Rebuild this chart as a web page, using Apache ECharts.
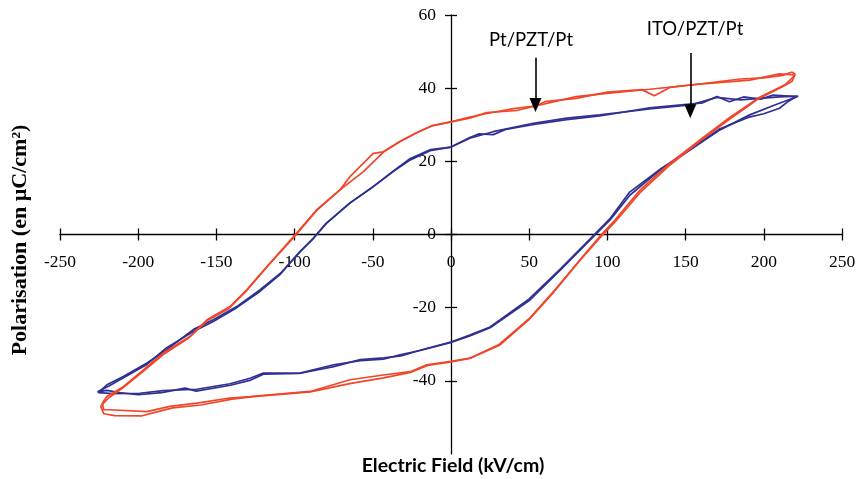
<!DOCTYPE html>
<html>
<head>
<meta charset="utf-8">
<script src="https://cdn.jsdelivr.net/npm/echarts@6/dist/echarts.min.js"></script>
<style>html,body{margin:0;padding:0;background:#fff;}#c{width:856px;height:479px;}</style>
</head>
<body>
<div id="c"></div>
<script>
// Electric field (kV/cm), Polarisation (µC/cm²)
const ptCycle1 = [
[220,43.6],[210,43.9],[191,42.2],[159,41.1],[127,39.7],[99.5,38.6],[80,37.7],[54.8,35.2],[42,33.9],[22.8,33.3],[12,31.8],[0,30.8],[-12,29.8],[-22,27.8],[-32.6,25.4],[-43.3,22.6],[-49.7,22.2],[-64.6,15.8],[-71,12.2],[-86,6.7],[-100.8,-0.6],[-117.8,-8.8],[-130.6,-15.1],[-141.3,-19.7],[-156,-23.3],[-167,-27.9],[-184,-32.4],[-196.7,-37],[-209.5,-41.6],[-220,-44.3],[-223,-46.1],[-222,-47.9],
[-218,-47.9],[-194.6,-48.4],[-179.7,-47],[-162.6,-46.1],[-141.3,-44.7],[-128.5,-44.3],[-115.7,-43.8],[-90,-42.9],[-64.6,-39.7],[-43.3,-38.4],[-26,-37.5],[-15.5,-35.6],[0,-34.7],[12,-33.8],[31,-30],[50.5,-22.8],[66.5,-15.1],[82.5,-6.9],[95,-0.6],[105,4],[121,12.2],[140,19.5],[159,25.8],[178,31.9],[197.6,37.6],[213.6,40.9],[220,43.6]
];
const ptCycle2 = [
[218,44.4],[212,43.5],[200,42.8],[185,42.5],[160,41.2],[140,40.2],[130,37.9],[122,39.6],[100,38.9],[80,37.2],[60,36.3],[54.8,35.2],[40,34.4],[22,33],[10,31.9],[0,30.8],[-12,29.7],[-22,27.8],[-32.6,25.4],[-43,22.6],[-56,17.2],[-71,12.2],[-86,6.5],[-100,-0.5],[-117,-8.5],[-131,-15.5],[-142,-20.2],[-156,-23.6],[-168,-28.4],[-184,-32.8],[-197,-37.5],[-210,-42],[-219,-44.7],[-224,-47],[-222,-49],
[-215,-49.5],[-198,-49.6],[-190,-48.7],[-178,-47.4],[-160,-46.6],[-140,-45],[-128,-44.4],[-115,-43.9],[-90,-43],[-64,-40.7],[-43,-39.2],[-26,-37.7],[-15,-35.8],[0,-34.8],[12,-33.9],[31,-30.3],[50,-23.2],[66,-15.6],[82,-7.3],[95,-1],[105,3.5],[121,11.5],[140,19],[159,25.5],[178,31.5],[197,37.2],[210,40],[218,41.8],[220,43.8],[218,44.4]
];
const itoCycle1 = [
[222,37.8],[210,37.6],[185,36.8],[170,37.5],[153,35.4],[127,34.3],[95,32.7],[74,31.8],[52.6,30.4],[27,28.1],[12,26.3],[0,23.9],[-13.4,22.9],[-26,20.4],[-37,17.2],[-49.7,13.1],[-64.6,8.6],[-79.5,3.1],[-88,-1],[-96.5,-4.7],[-109,-10.6],[-122,-15.1],[-137,-19.7],[-152,-23.3],[-164.8,-26],[-181.8,-31.5],[-194.6,-35.2],[-209.5,-38.8],[-220,-41.1],[-225.5,-43.2],
[-216,-43.5],[-199,-43.4],[-184,-42.7],[-162.6,-42.3],[-141.3,-40.8],[-128.5,-39.3],[-120,-37.9],[-96.5,-37.9],[-75,-35.6],[-58,-34.5],[-43.3,-34.1],[-32.6,-32.9],[-17.7,-31.5],[0,-29.5],[12,-27.7],[25,-25.5],[50.5,-17.9],[70,-9.7],[89,-1.5],[101.7,4],[114.5,10.8],[133.6,17.6],[152.8,23.1],[172,28.6],[191,32.7],[207,35.4],[222,37.8]
];
const itoCycle2 = [
[221,37.7],[206,38.1],[198,37],[187,37.6],[178,36.3],[170,37.7],[161,36],[127,34.6],[95,32.4],[74,31.4],[52,30],[35,28.7],[27,27.3],[18,27.5],[12,26.5],[0,23.9],[-13,23.2],[-26,20.8],[-37,17.3],[-50,13],[-65,8.5],[-80,3],[-88,-1.1],[-97,-4.9],[-109,-10.8],[-122,-15.5],[-137,-20],[-152,-23.8],[-165,-26.6],[-182,-31],[-195,-35.7],[-210,-39.3],[-219,-41.5],[-226,-43],
[-220,-42.6],[-212,-43.2],[-200,-43.8],[-185,-43.2],[-170,-42],[-163,-42.8],[-141,-41.2],[-128,-39.8],[-120,-38.2],[-97,-38],[-75,-36.1],[-58,-34.2],[-43,-33.7],[-32,-33.2],[-17,-31.3],[0,-29.4],[12,-27.5],[25,-25.3],[50,-17.6],[70,-9.4],[89,-1.2],[102,4.5],[114,11.5],[134,17.9],[153,23.3],[172,28.9],[190,32],[200,33],[210,34.5],[215,36.2],[221,37.7]
];
const xTickLabels = [-250,-200,-150,-100,-50,0,50,100,150,200,250];
const yTickLabels = [-40,-20,0,20,40,60];
const ptArrow = [[54,48.3],[54,35.4]];
const itoArrow = [[153,49.6],[153,33.7]];

const RED = '#F0462A', BLUE = '#2E3192';
const chart = echarts.init(document.getElementById('c'), null, {renderer:'canvas'});
const labelFont = {fontFamily:'Liberation Serif', fontSize:17.5, color:'#000'};
function lineSeries(data, color, arrow){
  const s = {type:'line', data:data, showSymbol:false, symbol:'none', smooth:false,
    lineStyle:{color:color, width:1.7}, xAxisIndex:0, yAxisIndex:0, z:2, animation:false};
  if (arrow) {
    s.markLine = {silent:true, symbol:['none','triangle'], symbolSize:[12,14], label:{show:false},
      lineStyle:{color:'#000', width:1.6, type:'solid'}, animation:false,
      data:[[{coord:arrow[0]},{coord:arrow[1]}]]};
  }
  return s;
}
function labelSeries(data, pos, dist){
  return {type:'scatter', data:data, symbolSize:2, itemStyle:{color:'rgba(0,0,0,0)'}, clip:false, silent:true,
    xAxisIndex:0, yAxisIndex:0, z:1, animation:false,
    label:Object.assign({show:true, opacity:1, position:pos, distance:dist, formatter:function(p){return String(p.data[2]);}}, labelFont)};
}
const tickCommon = {show:true, length:6, lineStyle:{color:'#000', width:1.3}};
chart.setOption({
  animation:false,
  grid:{left:60, right:14, top:15, bottom:25, containLabel:false},
  xAxis:[
    {type:'value', min:-250, max:250, interval:50, position:'bottom',
     axisLine:{onZero:true, onZeroAxisIndex:0, lineStyle:{color:'#000', width:1.3}},
     axisTick:tickCommon, axisLabel:{show:false}, splitLine:{show:false}},
    {type:'value', min:-250, max:250, interval:50, position:'bottom',
     axisLine:{show:false, onZero:true, onZeroAxisIndex:0},
     axisTick:Object.assign({inside:true}, tickCommon),
     axisLabel:{show:false}, splitLine:{show:false}}
  ],
  yAxis:[
    {type:'value', min:-60, max:60, interval:20, position:'left',
     axisLine:{onZero:true, onZeroAxisIndex:0, lineStyle:{color:'#000', width:1.3}},
     axisTick:Object.assign({customValues:yTickLabels}, tickCommon),
     axisLabel:{show:false}, splitLine:{show:false}},
    {type:'value', min:-60, max:60, interval:20, position:'left',
     axisLine:{show:false, onZero:true, onZeroAxisIndex:0},
     axisTick:Object.assign({inside:true, customValues:yTickLabels}, tickCommon),
     axisLabel:{show:false}, splitLine:{show:false}}
  ],
  series:[
    lineSeries(itoCycle1, BLUE, itoArrow),
    lineSeries(itoCycle2, BLUE),
    lineSeries(ptCycle1, RED, ptArrow),
    lineSeries(ptCycle2, RED),
    labelSeries(xTickLabels.map(v=>[v,0,v]), 'bottom', 18),
    labelSeries(yTickLabels.map(v=>[0,v,v]), 'left', 14)
  ],
  graphic:[
    {type:'text', x:453, y:466, style:{text:'Electric Field (kV/cm)', fontFamily:'Lato', fontWeight:'bold', fontSize:19.5, fill:'#000', align:'center', verticalAlign:'middle'}},
    {type:'text', x:20, y:240, rotation:Math.PI/2, style:{text:'Polarisation (en µC/cm²)', fontFamily:'Liberation Serif', fontWeight:'bold', fontSize:22, fill:'#000', align:'center', verticalAlign:'middle'}},
    {type:'text', x:531, y:40, style:{text:'Pt/PZT/Pt', fontFamily:'Lato', fontSize:18.5, fill:'#000', align:'center', verticalAlign:'middle'}},
    {type:'text', x:695, y:29, style:{text:'ITO/PZT/Pt', fontFamily:'Lato', fontSize:18.5, fill:'#000', align:'center', verticalAlign:'middle'}}
  ]
});
</script>
</body>
</html>
